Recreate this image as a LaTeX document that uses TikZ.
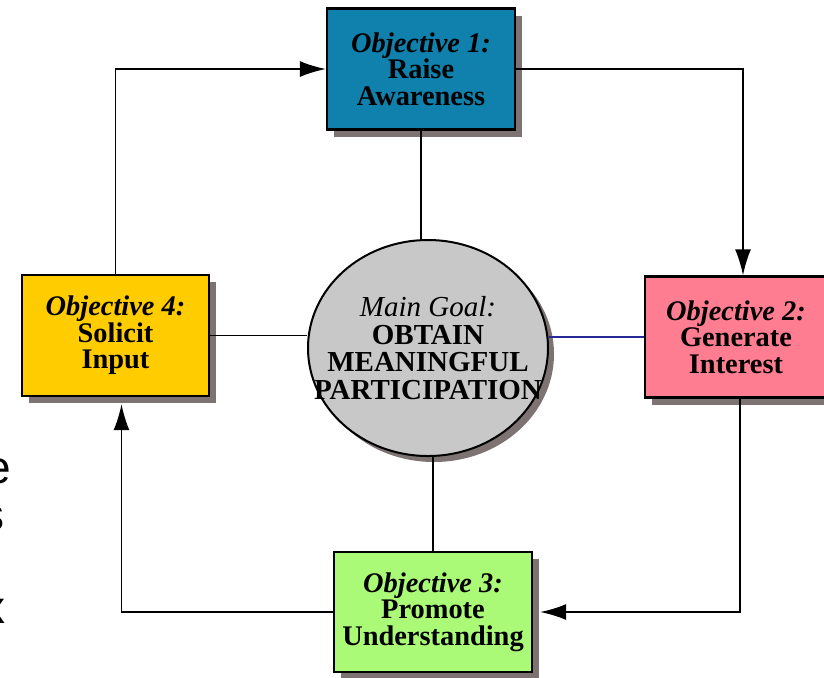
\documentclass[tikz,border=0pt]{standalone}
\usepackage{fontspec}
\setmainfont{Liberation Serif}
\newfontfamily\slidefont{Liberation Sans}
\usetikzlibrary{positioning,shadows,shapes.geometric,arrows.meta}
\definecolor{awareblue}{RGB}{16,128,172}
\definecolor{interestpink}{RGB}{255,125,145}
\definecolor{understandgreen}{RGB}{170,250,120}
\definecolor{inputyellow}{RGB}{255,204,0}
\definecolor{goalgray}{RGB}{200,200,200}
\definecolor{shadowgray}{RGB}{125,115,115}
\definecolor{linkblue}{RGB}{40,40,150}

\begin{document}
\begin{tikzpicture}[x=0.5pt,y=-0.5pt,
  objbox/.style={draw=black,line width=1.2pt,minimum height=60.5pt,inner sep=0pt,align=center,
    font=\fontsize{14.2}{13.2}\selectfont\bfseries,
    drop shadow={shadow xshift=3.5pt,shadow yshift=-3.5pt,fill=shadowgray,opacity=1}},
  goalshape/.style={ellipse,draw=black,line width=1pt,fill=goalgray,minimum width=120pt,minimum height=108pt,inner sep=0pt,
    drop shadow={shadow xshift=3pt,shadow yshift=-3pt,fill=shadowgray,opacity=1}},
  link/.style={line width=0.8pt},
  arr/.style={link,-{Latex[length=13pt,width=8pt]}}]
\useasboundingbox (0,0) rectangle (824,677);

% objectives round the goal
\node[objbox,fill=awareblue,minimum width=94pt] (aware) at (421,69) {\textit{Objective 1:}\\Raise\\Awareness};
\node[objbox,fill=interestpink,minimum width=91pt] (interest) at (736,337) {\textit{Objective 2:}\\Generate\\Interest};
\node[objbox,fill=understandgreen,minimum width=99pt,minimum height=60pt] (understand) at (433,612) {\textit{Objective 3:}\\Promote\\Understanding};
\node[objbox,fill=inputyellow,minimum width=93.5pt] (input) at (115.5,335.5) {\textit{Objective 4:}\\Solicit\\Input};

\node[goalshape] (goal) at (428,348) {};
\node[align=center,inner sep=0pt,font=\fontsize{14.5}{13.8}\selectfont\bfseries] (goaltext) at (goal) {\textit{\mdseries Main Goal:}\\OBTAIN\\MEANINGFUL\\PARTICIPATION};

% the cycle
\draw[arr] (input.north) |- (aware.west);
\draw[arr] (aware.east) -| ([xshift=3.5pt]interest.north);
\draw[arr] ([xshift=2pt]interest.south) |- ([xshift=3.5pt]understand.east);
\draw[arr] (understand.west) -| ([xshift=3pt,yshift=-3.5pt]input.south);

% spokes to the goal
\draw[link] (aware.south) -- (aware.south |- goal.north);
\draw[link] (understand.north) -- (understand.north |- goal.south);
\draw[link] (input.east) -- (input.east -| goal.west);
\draw[link,draw=linkblue] (goal.east |- interest.west) -- (interest.west);

% cut-off slide text at the left edge
\node[font=\slidefont\fontsize{23}{23}\selectfont,anchor=base east,inner sep=0pt] (cute) at (11,483) {e};
\node[font=\slidefont\fontsize{23}{23}\selectfont,anchor=base east,inner sep=0pt] (cuts) at (5,530) {s};
\node[font=\slidefont\fontsize{23}{23}\selectfont,anchor=base east,inner sep=0pt] (cutx) at (6,623) {x};
\end{tikzpicture}
\end{document}
